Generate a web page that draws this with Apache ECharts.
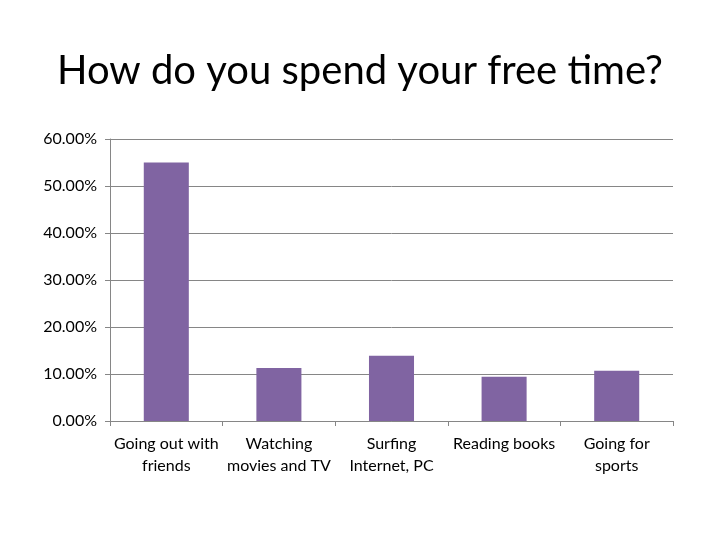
<!DOCTYPE html>
<html>
<head>
    <meta charset="utf-8" />
    <title>Free time</title>
    <script src="https://cdn.jsdelivr.net/npm/echarts@6.0.0/dist/echarts.min.js"></script>
    <style>
        html, body { margin: 0; padding: 0; background: #fff; }
    </style>
</head>
<body>
    <div id="main" style="width: 720px;height: 540px;"></div>
    <script type="text/javascript">
        // data (percent)
        var categories = ['Going out with\nfriends', 'Watching\nmovies and TV', 'Surfing\nInternet, PC', 'Reading books', 'Going for\nsports'];
        var shares = [55.0, 11.3, 13.9, 9.4, 10.7];
        var yTicks = [0, 10, 20, 30, 40, 50, 60];

        var myChart = echarts.init(document.getElementById('main'));
        var font = 'Lato, "Open Sans", sans-serif';

        var option = {
            animation: false,
            title: {
                text: 'How do you spend your free time?',
                left: 'center',
                top: 46,
                textStyle: { fontFamily: font, fontSize: 40, fontWeight: 'normal', color: '#000' }
            },
            grid: { left: 110, right: 47, top: 139, bottom: 119 },
            xAxis: {
                type: 'category',
                data: categories,
                axisLine: { lineStyle: { color: '#868686' } },
                axisTick: { show: true, length: 5, lineStyle: { color: '#868686' } },
                axisLabel: { color: '#000', fontFamily: font, fontSize: 16, lineHeight: 22, margin: 12, interval: 0 }
            },
            yAxis: {
                type: 'value',
                min: yTicks[0],
                max: yTicks[yTicks.length - 1],
                interval: 10,
                axisLine: { show: true, lineStyle: { color: '#868686' } },
                axisTick: { show: true, length: 5, lineStyle: { color: '#868686' } },
                splitLine: { lineStyle: { color: '#868686' } },
                axisLabel: {
                    color: '#000', fontFamily: font, fontSize: 16, margin: 13,
                    formatter: function (v) { return v.toFixed(2) + '%'; }
                }
            },
            series: [{
                type: 'bar',
                data: shares,
                barWidth: '40%',
                itemStyle: { color: '#8064A2' }
            }]
        };

        myChart.setOption(option);
    </script>
</body>
</html>
